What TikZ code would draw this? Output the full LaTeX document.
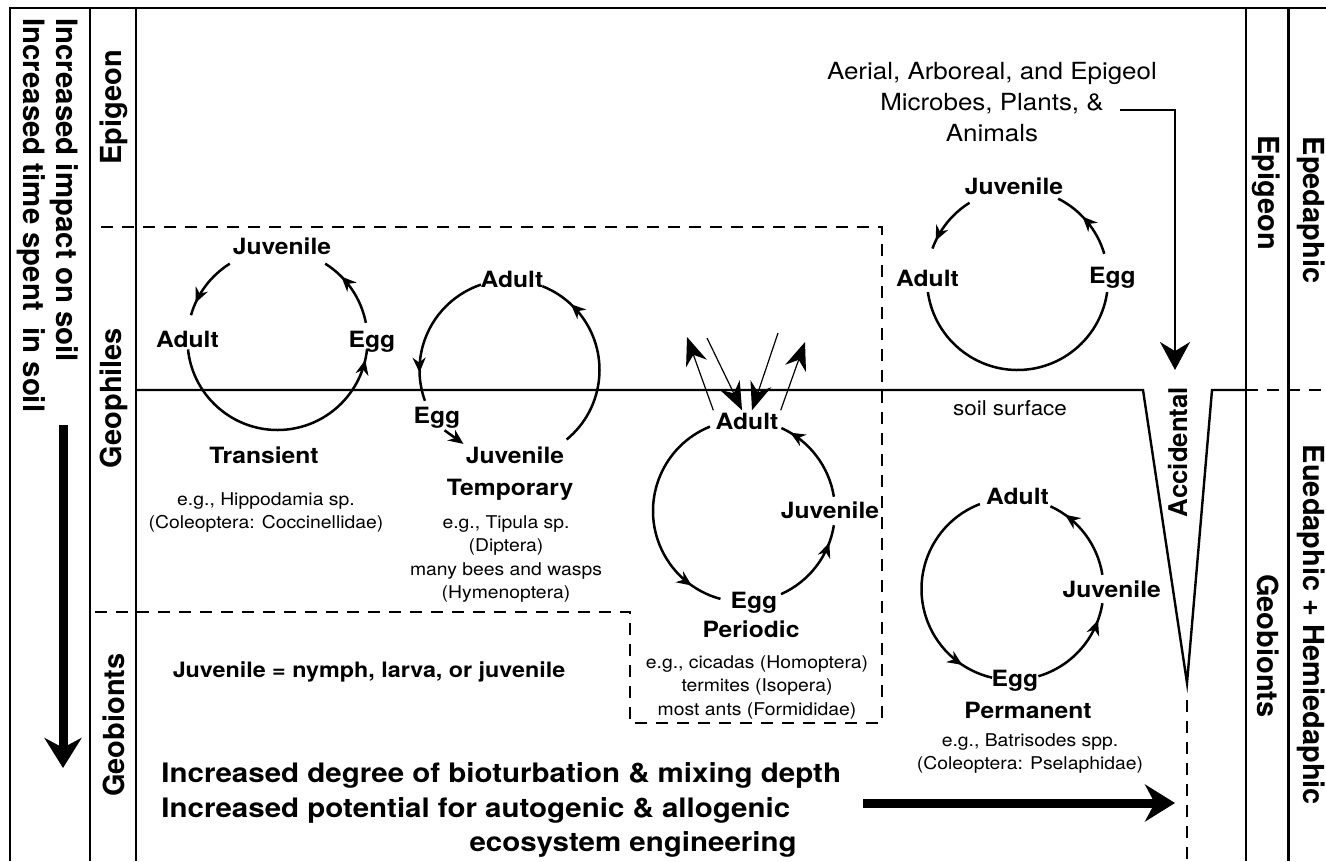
\documentclass[tikz,border=0pt]{standalone}
\usepackage{fontspec}
\setmainfont{TeX Gyre Heros}[FakeStretch=1.1]
\newfontfamily\sidefont{TeX Gyre Heros}
\usepackage{tikz}
\usetikzlibrary{arrows.meta,decorations.markings,calc}

\begin{document}
\begin{tikzpicture}[x=0.5pt,y=0.5pt,
  frame/.style={line width=1pt},
  dashline/.style={line width=1.3pt,dash pattern=on 6pt off 4.5pt},
  cyc/.style={line width=1.25pt},
  cyctip/.style={line width=1.25pt,-{Stealth[length=7.5pt,width=6.5pt]}},
  arrat/.style={postaction={decorate},decoration={markings,mark=at position #1 with {\arrow{Stealth[length=7.5pt,width=6.5pt]}}}},
  lbl/.style={font=\bfseries\fontsize{11.2}{13}\selectfont,anchor=base,inner sep=1pt},
  note/.style={font=\fontsize{8.8}{11.7}\selectfont,align=center,anchor=north,inner sep=0pt},
  side/.style={font=\sidefont\bfseries\fontsize{14.5}{17}\selectfont,inner sep=0pt},
  big/.style={font=\bfseries\fontsize{13.4}{16}\selectfont,inner sep=0pt},
  fat/.style={line width=4.5pt,-{Stealth[length=15pt,width=18.5pt]}},
  emerge/.style={line width=0.6pt,-{Stealth[length=14pt,width=11pt]}}]
\useasboundingbox (0,0) rectangle (1326,-861);
% frame and columns
\draw[frame] (10,-861) -- (10,-8) -- (1326,-8);
\foreach \x in {90,136,1246}
   \draw[frame] (\x,-8) -- (\x,-861);
\draw[line width=1.5pt] (1288,-8) -- (1288,-861);
\draw[line width=1.2pt] (136,-390) -- (1143,-390) -- (1187,-683) -- (1212,-390) -- (1246,-390);
\draw[dashline] (1246,-390) -- (1326,-390);
\draw[dashline] (1187,-700) -- (1187,-861);
\draw[dashline] (95,-612) -- (630,-612) -- (630,-723) -- (882,-723) -- (882,-227) -- (95,-227);
% side labels
\node[side,rotate=-90,anchor=north west,align=left,font=\sidefont\bfseries\fontsize{14.7}{16.5}\selectfont] (impact) at (79,-18)
   {Increased impact on soil\\Increased time spent\ \ in soil};
\coordinate (downA) at (63,-425);
\coordinate (downB) at (63,-768);
\draw[fat] (downA) -- (downB);
\node[side,rotate=90] (lepi) at (114,-107) {Epigeon};
\node[side,rotate=90] (lgeo) at (114,-398) {Geophiles};
\node[side,rotate=90] (lbio) at (114,-725) {Geobionts};
\node[side,rotate=-90] (repi) at (1266,-193) {Epigeon};
\node[side,rotate=-90] (rbio) at (1268,-646) {Geobionts};
\node[side,rotate=-90] (repd) at (1311,-210) {Epedaphic};
\node[side,rotate=-90] (reuh) at (1311,-625) {Euedaphic + Hemiedaphic};
\node[side,rotate=90,font=\sidefont\bfseries\fontsize{12.9}{15}\selectfont] (acc) at (1178,-452) {Accidental};
% cycle centres
\coordinate (c1) at (277.5,-340);
\coordinate (c2) at (509.5,-370);
\coordinate (c3) at (744,-511);
\coordinate (c4) at (1017.5,-279.5);
\coordinate (c5) at (1012.5,-589);
\foreach \c/\r/\s/\e/\p in {c1/90/11/58/0.72, c1/90/122/164/0.8, c1/90/186/354/0.96,
   c2/90/108.5/200/0.8, c2/90/-50.6/68.5/0.82,
   c3/91/112/255/0.86, c3/91/294/351/0.8, c3/91/9/65.7/0.89,
   c4/90.5/122/160/0.86, c4/90.5/16.5/63.3/0.59,
   c5/91/111/257/0.86, c5/91/286.5/351/0.83, c5/91/9/65.4/0.81}
   \draw[cyc,arrat=\p] ($(\c)+(\s:\r)$) arc[start angle=\s,end angle=\e,radius=\r];
\draw[cyc] ($(c4)+(188:90.5)$) arc[start angle=188,end angle=352,radius=90.5];
% transient
\node[lbl] (juv1) at (282,-255) {Juvenile};
\node[lbl] (adult1) at (187.5,-347) {Adult};
\node[lbl] (egg1) at (372,-347) {Egg};
\node[lbl] (trans) at (264,-463) {Transient};
\node[note] (ntrans) at (266,-492) {e.g., Hippodamia sp.\\(Coleoptera: Coccinellidae)};
% temporary
\node[lbl] (adult2) at (512,-287) {Adult};
\node[lbl] (egg2) at (437,-423) {Egg};
\node[lbl] (juv2) at (515,-463) {Juvenile};
\draw[cyctip] (egg2.-60) -- (juv2.north west);
\node[lbl] (temp) at (510,-495) {Temporary};
\node[note] (ntemp) at (506,-515) {e.g., Tipula sp.\\(Diptera)\\many bees and wasps\\(Hymenoptera)};
% periodic
\node[lbl] (adult3) at (747,-429) {Adult};
\node[lbl] (juv3) at (830,-518) {Juvenile};
\node[lbl] (egg3) at (754,-608) {Egg};
\node[lbl] (peri) at (751,-637) {Periodic};
\node[note] (nperi) at (757,-655) {e.g., cicadas (Homoptera)\\termites (Isopera)\\most ants (Formididae)};
\coordinate (emA) at (687,-337);
\coordinate (emB) at (707,-338);
\coordinate (emC) at (778,-333);
\coordinate (emD) at (805,-342);
\draw[emerge] (adult3.north west) -- (emA);
\draw[emerge] (emB) -- (adult3.115);
\draw[emerge] (emC) -- (adult3.65);
\draw[emerge] (adult3.north east) -- (emD);
% epigeon cycle
\node[lbl] (juv4) at (1014,-195) {Juvenile};
\node[lbl] (adult4) at (927.5,-286) {Adult};
\node[lbl] (egg4) at (1112.5,-283) {Egg};
\node[font=\fontsize{11.8}{15.5}\selectfont,align=center,anchor=north,inner sep=0pt] (aerial) at (992,-62)
   {Aerial, Arboreal, and Epigeol\\Microbes, Plants, \&\\Animals};
\coordinate (accA) at (1120,-110);
\coordinate (accB) at (1175,-370);
\draw[line width=1.4pt,-{Stealth[length=14pt,width=15pt]}] (accA) -| (accB);
\node[font=\fontsize{10.2}{12}\selectfont,anchor=base] (soil) at (1010,-415) {soil surface};
% permanent
\node[lbl] (adult5) at (1017.5,-504) {Adult};
\node[lbl] (juv5) at (1111.7,-597) {Juvenile};
\node[lbl] (egg5) at (1015,-686) {Egg};
\node[lbl] (perm) at (1028,-718) {Permanent};
\node[note] (nperm) at (1030,-733) {e.g., Batrisodes spp.\\(Coleoptera: Pselaphidae)};
% bottom texts
\node[lbl,font=\bfseries\fontsize{10.6}{13}\selectfont] (juvnote) at (369,-677) {Juvenile = nymph, larva, or juvenile};
\node[big,anchor=base west] (deg) at (161,-782) {Increased degree of bioturbation \& mixing depth};
\node[big,anchor=base west] (pot) at (161,-817) {Increased potential for autogenic \& allogenic};
\node[big,anchor=base east] (eng) at (797,-851) {ecosystem engineering};
\coordinate (rightA) at (863,-803);
\coordinate (rightB) at (1175,-803);
\draw[fat] (rightA) -- (rightB);
\end{tikzpicture}
\end{document}
